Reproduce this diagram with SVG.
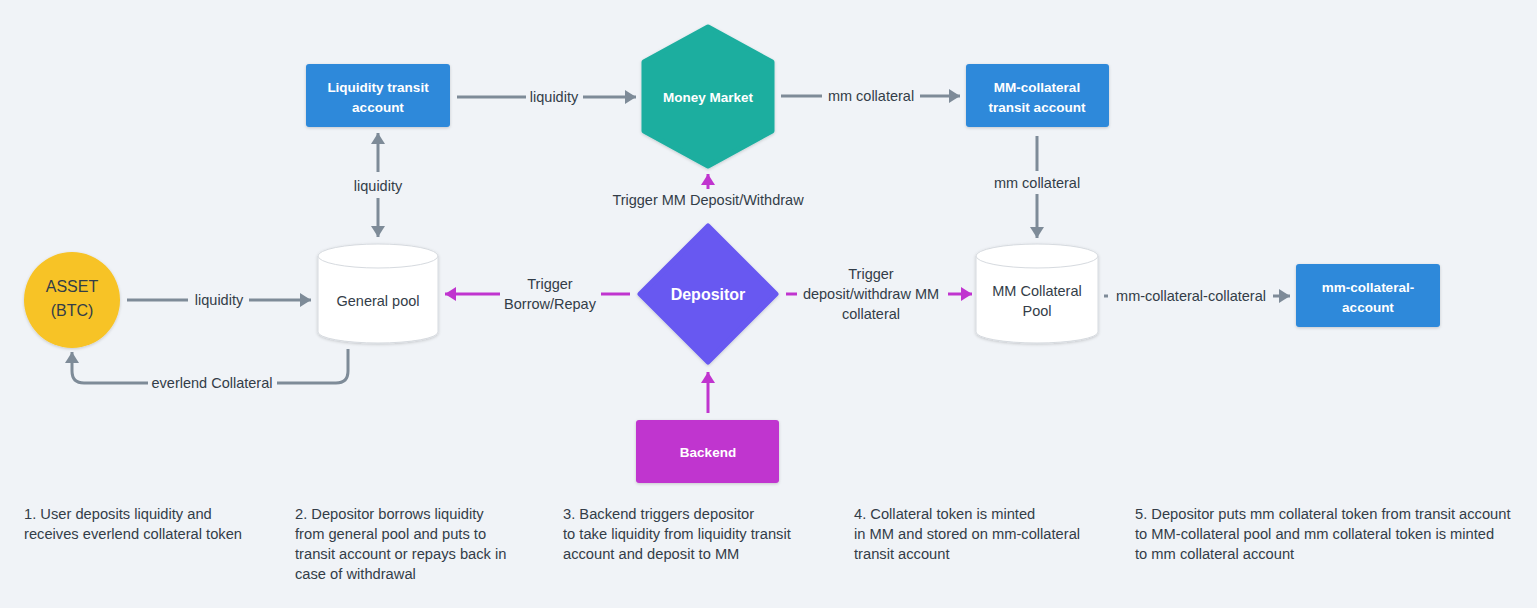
<svg xmlns="http://www.w3.org/2000/svg" width="1537" height="608" viewBox="0 0 1537 608">
<style>
.lbl{font-family:"Liberation Sans",Arial,sans-serif;font-size:14.5px;fill:#333d48;text-anchor:middle}
.nt{font-family:"Liberation Sans",Arial,sans-serif;font-size:13.5px;font-weight:bold;fill:#ffffff;text-anchor:middle}
.note{font-family:"Liberation Sans",Arial,sans-serif;font-size:14.7px;fill:#333d48}
.g{stroke:#7e8b98;stroke-width:3;fill:none}
.m{stroke:#c034cf;stroke-width:3;fill:none}
.cyl{fill:#ffffff;stroke:#d6dadf;stroke-width:1}
</style>
<defs>
<filter id="sh" x="-20%" y="-20%" width="140%" height="150%">
<feDropShadow dx="0" dy="1" stdDeviation="1.5" flood-color="#000" flood-opacity="0.18"/>
</filter>
<marker id="ag" markerUnits="userSpaceOnUse" markerWidth="12" markerHeight="14" refX="11" refY="7" orient="auto">
<path d="M0,0 L11,7 L0,14 Z" fill="#7e8b98"/>
</marker>
<marker id="am" markerUnits="userSpaceOnUse" markerWidth="12" markerHeight="14" refX="11" refY="7" orient="auto">
<path d="M0,0 L11,7 L0,14 Z" fill="#c034cf"/>
</marker>
</defs>
<rect width="1537" height="608" fill="#f0f3f7"/>

<g id="connectors">
<line class="g" x1="457" y1="97" x2="526" y2="97"/>
<line class="g" x1="583" y1="97" x2="636" y2="97" marker-end="url(#ag)"/>
<text class="lbl" x="554" y="102">liquidity</text>
<line class="g" x1="781" y1="96" x2="822" y2="96"/>
<line class="g" x1="920" y1="96" x2="960" y2="96" marker-end="url(#ag)"/>
<text class="lbl" x="871" y="101">mm collateral</text>
<line class="g" x1="378" y1="172" x2="378" y2="133" marker-end="url(#ag)"/>
<line class="g" x1="378" y1="198" x2="378" y2="237" marker-end="url(#ag)"/>
<text class="lbl" x="378" y="191">liquidity</text>
<line class="g" x1="1037" y1="136" x2="1037" y2="171"/>
<line class="g" x1="1037" y1="194" x2="1037" y2="238" marker-end="url(#ag)"/>
<text class="lbl" x="1037" y="188">mm collateral</text>
<line class="g" x1="127" y1="300" x2="188" y2="300"/>
<line class="g" x1="249" y1="300" x2="311" y2="300" marker-end="url(#ag)"/>
<text class="lbl" x="219" y="305">liquidity</text>
<path class="g" d="M348,349 V371 Q348,383 336,383 H277"/>
<path class="g" d="M148,383 H84 Q72,383 72,371 V352" marker-end="url(#ag)"/>
<text class="lbl" x="212" y="388">everlend Collateral</text>
<line class="m" x1="630" y1="294" x2="601" y2="294"/>
<line class="m" x1="500" y1="294" x2="445" y2="294" marker-end="url(#am)"/>
<text class="lbl" x="550" y="289">Trigger</text>
<text class="lbl" x="550" y="309">Borrow/Repay</text>
<line class="m" x1="786" y1="294" x2="797" y2="294"/>
<line class="m" x1="948" y1="294" x2="972" y2="294" marker-end="url(#am)"/>
<text class="lbl" x="871" y="279">Trigger</text>
<text class="lbl" x="871" y="299">deposit/withdraw MM</text>
<text class="lbl" x="871" y="319">collateral</text>
<line class="m" x1="708" y1="189" x2="708" y2="174" marker-end="url(#am)"/>
<text class="lbl" x="708" y="205">Trigger MM Deposit/Withdraw</text>
<line class="m" x1="708" y1="413" x2="708" y2="372" marker-end="url(#am)"/>
<line class="g" x1="1104" y1="296" x2="1108" y2="296"/>
<line class="g" x1="1273" y1="296" x2="1290" y2="296" marker-end="url(#ag)"/>
<text class="lbl" x="1191" y="301">mm-collateral-collateral</text>
</g>

<g id="liquidity-transit">
<rect x="306" y="64" width="144" height="63" rx="3" fill="#2d89da" filter="url(#sh)"/>
<text class="nt" x="378" y="92">Liquidity transit</text>
<text class="nt" x="378" y="112">account</text>
</g>

<g id="money-market">
<polygon points="708,27 772,62 772,131 708,166 644,131 644,62" fill="#1bae9f" stroke="#1bae9f" stroke-width="5" stroke-linejoin="round" filter="url(#sh)"/>
<text class="nt" x="708" y="102">Money Market</text>
</g>

<g id="mm-collateral-transit">
<rect x="966" y="64" width="143" height="63" rx="3" fill="#2d89da" filter="url(#sh)"/>
<text class="nt" x="1037" y="92">MM-collateral</text>
<text class="nt" x="1037" y="112">transit account</text>
</g>

<g id="asset">
<circle cx="72" cy="300" r="48" fill="#f7c325" filter="url(#sh)"/>
<text x="72" y="292" style="font-family:'Liberation Sans',Arial,sans-serif;font-size:16px;fill:#333d48;text-anchor:middle">ASSET</text>
<text x="72" y="316" style="font-family:'Liberation Sans',Arial,sans-serif;font-size:16px;fill:#333d48;text-anchor:middle">(BTC)</text>
</g>

<g id="general-pool">
<path class="cyl" d="M318,256 A60,12 0 0 1 438,256 V332 A60,11 0 0 1 318,332 Z" filter="url(#sh)"/>
<path class="cyl" d="M318,256 A60,12 0 0 0 438,256" fill="none"/>
<text class="lbl" x="378" y="306">General pool</text>
</g>

<g id="depositor">
<polygon points="708,226 776,294 708,362 640,294" fill="#6759f1" stroke="#6759f1" stroke-width="5" stroke-linejoin="round" filter="url(#sh)"/>
<text x="708" y="300" style="font-family:'Liberation Sans',Arial,sans-serif;font-size:16px;font-weight:bold;fill:#fff;text-anchor:middle">Depositor</text>
</g>

<g id="mm-collateral-pool">
<path class="cyl" d="M976,256 A61,12 0 0 1 1098,256 V332 A61,11 0 0 1 976,332 Z" filter="url(#sh)"/>
<path class="cyl" d="M976,256 A61,12 0 0 0 1098,256" fill="none"/>
<text class="lbl" x="1037" y="296">MM Collateral</text>
<text class="lbl" x="1037" y="316">Pool</text>
</g>

<g id="mm-collateral-account">
<rect x="1296" y="264" width="144" height="63" rx="3" fill="#2d89da" filter="url(#sh)"/>
<text class="nt" x="1368" y="292">mm-collateral-</text>
<text class="nt" x="1368" y="312">account</text>
</g>

<g id="backend">
<rect x="636" y="420" width="143" height="63" rx="3" fill="#c034cf" filter="url(#sh)"/>
<text class="nt" x="708" y="457">Backend</text>
</g>

<g id="notes">
<text class="note" x="24" y="519">1. User deposits liquidity and</text>
<text class="note" x="24" y="539">receives everlend collateral token</text>
<text class="note" x="295" y="519">2. Depositor borrows liquidity</text>
<text class="note" x="295" y="539">from general pool and puts to</text>
<text class="note" x="295" y="559">transit account or repays back in</text>
<text class="note" x="295" y="579">case of withdrawal</text>
<text class="note" x="563" y="519">3. Backend triggers depositor</text>
<text class="note" x="563" y="539">to take liquidity from liquidity transit</text>
<text class="note" x="563" y="559">account and deposit to MM</text>
<text class="note" x="854" y="519">4. Collateral token is minted</text>
<text class="note" x="854" y="539">in MM and stored on mm-collateral</text>
<text class="note" x="854" y="559">transit account</text>
<text class="note" x="1135" y="519">5. Depositor puts mm collateral token from transit account</text>
<text class="note" x="1135" y="539">to MM-collateral pool and mm collateral token is minted</text>
<text class="note" x="1135" y="559">to mm collateral account</text>
</g>
</svg>
